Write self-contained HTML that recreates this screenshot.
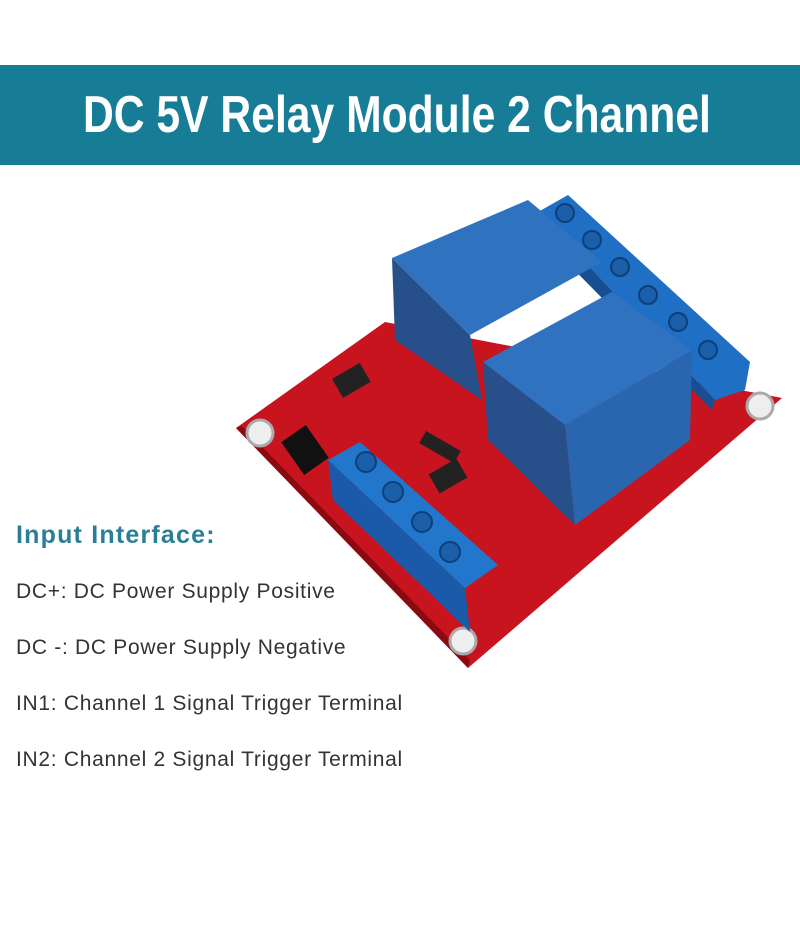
<!DOCTYPE html>
<html><head><style>
body{margin:0;width:800px;height:930px;background:#fff;position:relative;overflow:hidden;font-family:"Liberation Sans",sans-serif}
.ban{position:absolute;left:0;top:65px;width:800px;height:100px;background:#177d96}
.ban div{position:absolute;left:83px;top:20px;width:620px;white-space:nowrap;color:#fff;font-weight:bold;font-size:52px;transform:scaleX(0.82);transform-origin:left top}
.t{position:absolute;left:16px;color:#333;font-size:21px;letter-spacing:0.7px;white-space:nowrap}
</style></head><body>
<div class="ban"><div>DC 5V Relay Module 2 Channel</div></div>
<svg width="800" height="930" style="position:absolute;left:0;top:0">
<polygon points="236,428 385,322 782,398 468,668" fill="#c8141e"/>
<polygon points="236,428 468,668 470,660 242,426" fill="#8a0a10"/>
<circle cx="260" cy="433" r="13" fill="#eee" stroke="#aaa" stroke-width="3"/>
<circle cx="463" cy="641" r="13" fill="#eee" stroke="#aaa" stroke-width="3"/>
<circle cx="760" cy="406" r="13" fill="#eee" stroke="#aaa" stroke-width="3"/>
<polygon points="538,212 568,195 750,362 745,390 715,400" fill="#1f6fc4"/>
<polygon points="538,212 715,400 712,410 540,235" fill="#174f92"/>
<g fill="#1a5fa8" stroke="#0d3f7a" stroke-width="2">
<circle cx="565" cy="213" r="9"/><circle cx="592" cy="240" r="9"/><circle cx="620" cy="267" r="9"/><circle cx="648" cy="295" r="9"/><circle cx="678" cy="322" r="9"/><circle cx="708" cy="350" r="9"/></g>
<polygon points="392,258 395,340 482,400 470,335" fill="#274f8a"/>
<polygon points="392,258 528,200 602,262 470,335" fill="#2f72c0"/>
<polygon points="483,362 488,440 575,525 565,425" fill="#274f8a"/>
<polygon points="565,425 575,525 690,440 692,350" fill="#2a66b0"/>
<polygon points="483,362 612,292 692,350 565,425" fill="#2f72c0"/>
<polygon points="328,460 465,588 470,632 333,500" fill="#1a5aa8"/>
<polygon points="328,460 360,442 498,565 465,588" fill="#2277cc"/>
<g fill="#1a5fa8" stroke="#0d3f7a" stroke-width="2">
<circle cx="366" cy="462" r="10"/><circle cx="393" cy="492" r="10"/><circle cx="422" cy="522" r="10"/><circle cx="450" cy="552" r="10"/></g>
<rect x="335" y="370" width="32" height="22" fill="#222" transform="rotate(-30 350 380)"/>
<rect x="432" y="465" width="32" height="22" fill="#222" transform="rotate(-30 448 476)"/>
<rect x="290" y="430" width="30" height="40" fill="#111" transform="rotate(-35 305 450)"/>
<rect x="420" y="440" width="40" height="14" fill="#222" transform="rotate(30 440 447)"/>
</svg>
<div class="t" style="top:521px;color:#2a7f96;font-size:25px;font-weight:bold;letter-spacing:1.2px">Input Interface:</div>
<div class="t" style="top:580px">DC+: DC Power Supply Positive</div>
<div class="t" style="top:636px">DC -: DC Power Supply Negative</div>
<div class="t" style="top:692px">IN1: Channel 1 Signal Trigger Terminal</div>
<div class="t" style="top:748px">IN2: Channel 2 Signal Trigger Terminal</div>
</body></html>
